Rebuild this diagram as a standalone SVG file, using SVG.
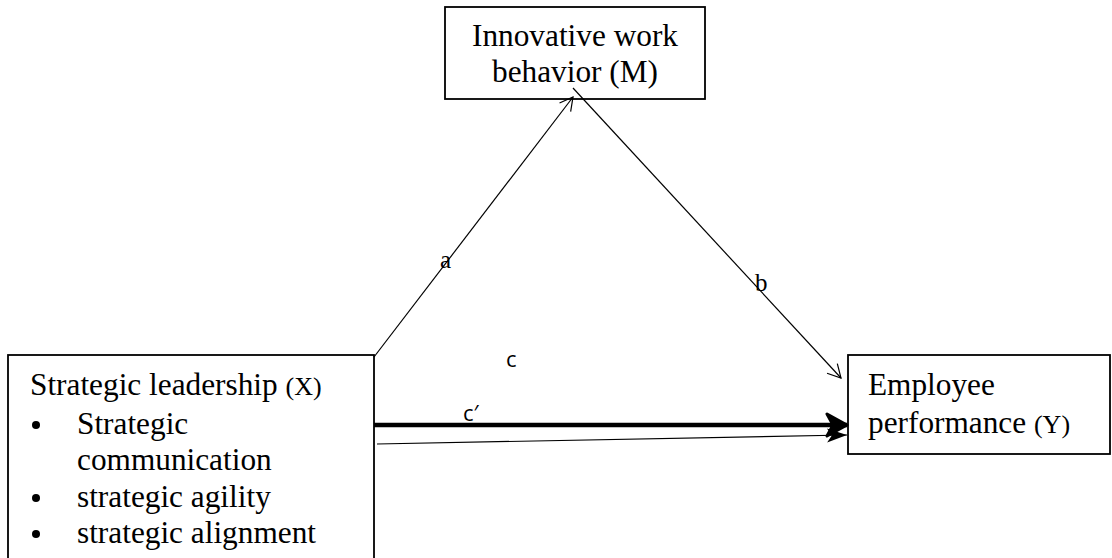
<svg xmlns="http://www.w3.org/2000/svg" width="1112" height="558" viewBox="0 0 1112 558">
<style>
.box{fill:#fff;stroke:#000;stroke-width:1.8}
.t{font-family:"Liberation Serif","Times New Roman",serif;font-size:31.3px;fill:#000}
.s{font-size:26px}
.lbl{font-family:"Liberation Serif","Times New Roman",serif;font-size:25px;fill:#000}
.lbl2{font-family:"Open Sans","Liberation Sans",sans-serif;font-size:22px;fill:#000}
.thin{stroke:#000;stroke-width:1.2;fill:none}
</style>
<defs>
<marker id="open" markerUnits="userSpaceOnUse" markerWidth="20" markerHeight="20" refX="14" refY="10" orient="auto">
<path d="M1,3 L14,10 L1,17" fill="none" stroke="#000" stroke-width="1.2"/>
</marker>
<marker id="bold" markerUnits="userSpaceOnUse" markerWidth="24" markerHeight="26" refX="22" refY="13" orient="auto">
<path d="M2,2 L22,13 L2,24 L8,13 Z" fill="#000" stroke="#000" stroke-width="3" stroke-linejoin="round"/>
</marker>
<marker id="solid" markerUnits="userSpaceOnUse" markerWidth="24" markerHeight="20" refX="22" refY="10" orient="auto">
<path d="M2,3 L22,10 L2,17 L7,10 Z" fill="#000"/>
</marker>
</defs>
<g id="node-m">
<rect class="box" x="445" y="7" width="260" height="92"/>
<text class="t" x="575" y="46" text-anchor="middle">Innovative work</text>
<text class="t" x="575" y="82" text-anchor="middle">behavior (M)</text>
</g>
<g id="node-x">
<rect class="box" x="8" y="355" width="366" height="210"/>
<text class="t" x="30" y="395">Strategic leadership <tspan class="s">(X)</tspan></text>
<circle cx="36" cy="425" r="4"/>
<text class="t" x="77" y="434">Strategic</text>
<text class="t" x="77" y="470">communication</text>
<circle cx="36" cy="498" r="4"/>
<text class="t" x="77" y="507">strategic agility</text>
<circle cx="36" cy="534" r="4"/>
<text class="t" x="77" y="543">strategic alignment</text>
</g>
<g id="node-y">
<rect class="box" x="848" y="355" width="262" height="99"/>
<text class="t" x="868" y="395">Employee</text>
<text class="t" x="868" y="433">performance <tspan class="s">(Y)</tspan></text>
</g>
<g id="connectors">
<line class="thin" x1="374" y1="357" x2="573" y2="97" marker-end="url(#open)"/>
<line class="thin" x1="573" y1="88" x2="841" y2="378" marker-end="url(#open)"/>
<line x1="374" y1="425" x2="847" y2="425" stroke="#000" stroke-width="4.5" marker-end="url(#bold)"/>
<line class="thin" x1="377" y1="444" x2="847" y2="435" marker-end="url(#solid)"/>
<text class="lbl" x="440" y="268">a</text>
<text class="lbl" x="755" y="291">b</text>
<text class="lbl2" x="506" y="367">c</text>
<text class="lbl2" x="463" y="421">c′</text>
</g>
</svg>
